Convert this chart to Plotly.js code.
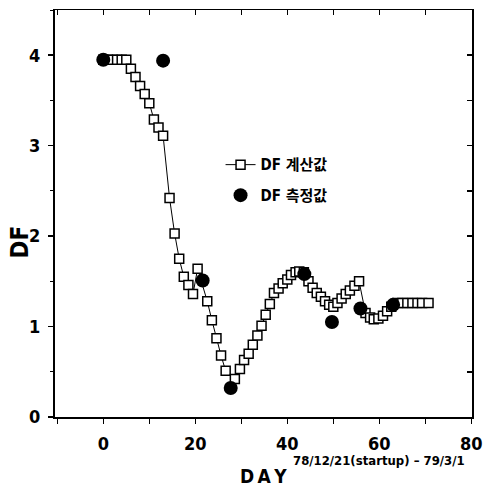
<!DOCTYPE html>
<html>
<head>
<meta charset="utf-8">
<script src="https://cdn.plot.ly/plotly-3.0.1.min.js"></script>
<style>html,body{margin:0;padding:0;background:#fff;}#chart{width:485px;height:487px;}</style>
</head>
<body>
<div id="chart"></div>
<script>
// Calculated DF (open squares, joined by a line)
const calcDay = [0, 1, 2, 3, 4, 5, 6, 7, 8, 9, 10, 11, 12, 13, 14.4, 15.5, 16.5, 17.5, 18.5, 19.5, 20.5,
  22.6, 23.6, 24.6, 25.6, 26.6, 28.6, 29.7, 30.6, 31.6, 32.5, 33.5, 34.4, 35.3, 36.2, 37.1, 38.1, 39.0,
  40.0, 40.8, 41.8, 42.6, 43.6, 44.6, 45.5, 46.4, 47.3, 48.2, 49.1, 50.0, 50.9, 51.8, 52.7, 53.6, 54.6,
  55.6, 57.0, 58.0, 58.8, 59.8, 60.8, 61.7, 62.6, 63.9, 65.0, 66.1, 67.2, 68.3, 69.3, 70.7];
const calcDF = [3.95, 3.95, 3.95, 3.95, 3.95, 3.95, 3.85, 3.76, 3.66, 3.57, 3.47, 3.29, 3.20, 3.11, 2.42, 2.03, 1.75, 1.55, 1.46, 1.36, 1.64,
  1.28, 1.07, 0.87, 0.68, 0.51, 0.42, 0.53, 0.63, 0.70, 0.80, 0.90, 1.01, 1.13, 1.25, 1.37, 1.42, 1.48,
  1.52, 1.57, 1.60, 1.61, 1.60, 1.50, 1.43, 1.37, 1.33, 1.28, 1.24, 1.22, 1.26, 1.31, 1.36, 1.40, 1.45,
  1.50, 1.15, 1.10, 1.08, 1.09, 1.12, 1.17, 1.22, 1.26, 1.26, 1.26, 1.26, 1.26, 1.26, 1.26];
// Measured DF (filled circles)
const measDay = [0, 13.0, 21.6, 27.7, 43.7, 49.7, 55.9, 63.0];
const measDF = [3.95, 3.94, 1.51, 0.32, 1.58, 1.05, 1.20, 1.24];

const names = ['DF 계산값', 'DF 측정값'];
const xTitleMain = 'D\u2009A\u2009Y';
const xTitleSup = '78/12/21(startup) – 79/3/1';
const yTitle = 'DF';

const FONT = 'Liberation Sans Narrow, DejaVu Sans Condensed, Noto Sans CJK KR, sans-serif';

const traces = [
  {x: calcDay, y: calcDF, name: names[0], type: 'scatter', mode: 'lines+markers',
   legendgroup: 'a',
   line: {color: '#000', width: 1},
   marker: {symbol: 'square', size: 9, color: '#fff', line: {color: '#000', width: 1.5}}},
  {x: measDay, y: measDF, name: names[1], type: 'scatter', mode: 'markers',
   legendgroup: 'b',
   marker: {symbol: 'circle', size: 14, color: '#000', line: {color: '#000', width: 0}}},
  {x: [null], y: [null], xaxis: 'x2', yaxis: 'y2', showlegend: false, type: 'scatter', mode: 'markers'}
];

const layout = {
  width: 485, height: 487,
  margin: {l: 55, r: 13, t: 10, b: 70},
  paper_bgcolor: '#fff', plot_bgcolor: '#fff',
  font: {family: FONT, color: '#000', size: 17, weight: 'bold'},
  showlegend: true,
  legend: {x: 0.397, y: 0.66, xanchor: 'left', yanchor: 'top', bgcolor: 'rgba(0,0,0,0)',
    font: {size: 15, family: FONT, weight: 'bold'}, tracegroupgap: 8},
  xaxis: {range: [-10.5, 80.15], dtick: 20, tick0: 0, showgrid: false, zeroline: false,
    showline: true, linecolor: '#000', linewidth: 2, ticks: 'outside', ticklen: 5, tickwidth: 1.5,
    tickcolor: '#000', ticklabelstandoff: 4, ticklabeloverflow: 'allow',
    minor: {dtick: 10, tick0: 0, ticks: 'outside', ticklen: 5, tickwidth: 1.5, tickcolor: '#000', showgrid: false},
    tickfont: {size: 18, family: FONT, weight: 'bold'}},
  yaxis: {range: [0, 4.5], dtick: 1, tick0: 0, showgrid: false, zeroline: false,
    showline: true, linecolor: '#000', linewidth: 2, ticks: 'outside', ticklen: 5, tickwidth: 1.5,
    tickcolor: '#000', ticklabelstandoff: 4,
    minor: {dtick: 0.5, tick0: 0, ticks: 'outside', ticklen: 3, tickwidth: 1, tickcolor: '#000', showgrid: false},
    tickfont: {size: 18, family: FONT, weight: 'bold'}},
  xaxis2: {overlaying: 'x', side: 'top', range: [-10.5, 80.15], dtick: 10, tick0: 0, showgrid: false,
    zeroline: false, showline: true, linecolor: '#000', linewidth: 1.5, ticks: 'inside', ticklen: 5,
    tickwidth: 1.5, tickcolor: '#000', showticklabels: false, anchor: 'y2'},
  yaxis2: {overlaying: 'y', side: 'right', range: [0, 4.5], dtick: 0.5, tick0: 0, showgrid: false,
    zeroline: false, showline: true, linecolor: '#000', linewidth: 1.5, ticks: 'inside', ticklen: 5,
    tickwidth: 1.5, tickcolor: '#000', showticklabels: false, anchor: 'x2'},
  annotations: [
    {text: xTitleMain, xref: 'paper', yref: 'paper', x: 0.44, y: -0.176, xanchor: 'left', yanchor: 'bottom',
     showarrow: false, font: {size: 19, family: FONT, weight: 'bold'}},
    {text: xTitleSup, xref: 'paper', yref: 'paper', x: 0.565, y: -0.13, xanchor: 'left', yanchor: 'bottom',
     showarrow: false, font: {size: 13, family: FONT, weight: 'bold'}},
    {text: yTitle, xref: 'paper', yref: 'paper', x: -0.085, y: 0.43, xanchor: 'center', yanchor: 'middle',
     textangle: -90, showarrow: false, font: {size: 24, family: FONT, weight: 'bold'}}
  ]
};

Plotly.newPlot('chart', traces, layout, {displayModeBar: false, staticPlot: true});
</script>
</body>
</html>
